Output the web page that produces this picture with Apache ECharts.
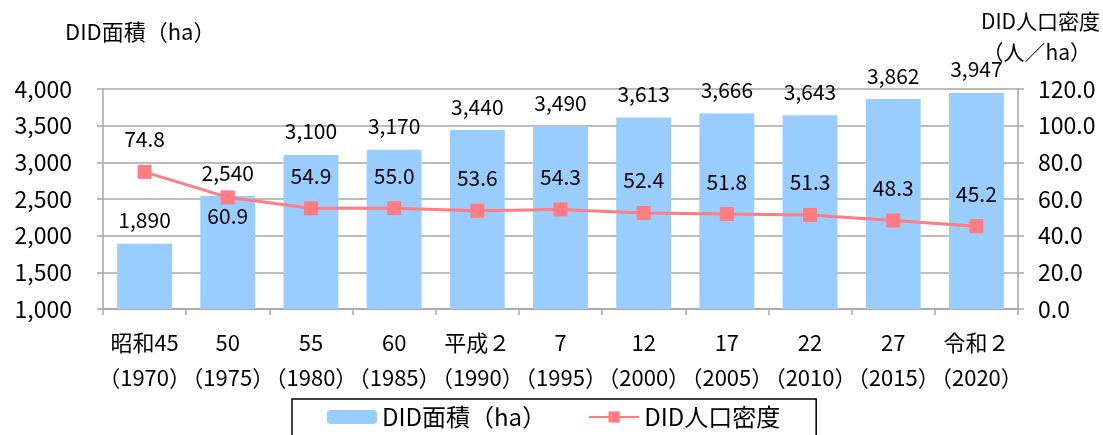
<!DOCTYPE html>
<html>
<head>
<meta charset="utf-8">
<script src="https://cdn.jsdelivr.net/npm/echarts@6/dist/echarts.min.js"></script>
<style>
  html, body { margin: 0; padding: 0; background: #fff; }
  #main { width: 1103px; height: 435px; }
</style>
</head>
<body>
<div id="main"></div>
<script>
// 年次ラベル（和暦＋西暦）
var eraLabels = ['昭和45', '50', '55', '60', '平成２', '7', '12', '17', '22', '27', '令和２'];
var yearLabels = ['1970', '1975', '1980', '1985', '1990', '1995', '2000', '2005', '2010', '2015', '2020'];
// DID面積（ha）
var didArea = [1890, 2540, 3100, 3170, 3440, 3490, 3613, 3666, 3643, 3862, 3947];
// DID人口密度（人/ha）
var didDensity = [74.8, 60.9, 54.9, 55.0, 53.6, 54.3, 52.4, 51.8, 51.3, 48.3, 45.2];
// 目盛
var leftTicks = [1000, 1500, 2000, 2500, 3000, 3500, 4000];
var rightTicks = [0, 20, 40, 60, 80, 100, 120];

var FONT = '"Noto Sans CJK JP", "Noto Sans", sans-serif';
var GRID = '#a6a6a6';

var categories = eraLabels.map(function (e, i) {
    return e + '\n（' + yearLabels[i] + '）';
});

var densityData = didDensity.map(function (v, i) {
    // 60.9 だけ点の下に表示
    if (i === 1) {
        return { value: v, label: { position: 'bottom', distance: 1 } };
    }
    return v;
});

var chart = echarts.init(document.getElementById('main'));

chart.setOption({
    animation: false,
    textStyle: { fontFamily: FONT, color: '#000' },
    grid: { left: 103, right: 85, top: 89, bottom: 126 },
    graphic: [
        { type: 'text', left: 65, top: 21, style: { text: 'DID面積（ha）', font: '22px ' + FONT, fill: '#000' } },
        { type: 'text', right: 3, top: 11, style: { text: 'DID人口密度', font: '21px ' + FONT, fill: '#000' } },
        { type: 'text', right: 12, top: 42, style: { text: '（人／ha）', font: '21px ' + FONT, fill: '#000' } }
    ],
    legend: {
        left: 292,
        top: 399,
        padding: [6, 36, 20, 35],
        borderColor: '#000',
        borderWidth: 1.5,
        itemWidth: 50,
        itemHeight: 14,
        itemGap: 42,
        textStyle: { fontSize: 24, fontFamily: FONT, color: '#000' },
        data: ['DID面積（ha）', 'DID人口密度']
    },
    xAxis: {
        type: 'category',
        data: categories,
        axisLine: { lineStyle: { color: GRID, width: 1.5 } },
        axisTick: { show: true, length: 6, lineStyle: { color: GRID, width: 1.5 } },
        axisLabel: {
            interval: 0,
            fontSize: 22,
            lineHeight: 35,
            margin: 16,
            color: '#000',
            fontFamily: FONT
        }
    },
    yAxis: [{
        type: 'value',
        min: leftTicks[0],
        max: leftTicks[leftTicks.length - 1],
        interval: leftTicks[1] - leftTicks[0],
        axisLine: { show: true, lineStyle: { color: GRID, width: 1.5 } },
        axisTick: { show: true, length: 6, lineStyle: { color: GRID, width: 1.5 } },
        splitLine: { lineStyle: { color: GRID, width: 1.5 } },
        axisLabel: {
            fontSize: 23,
            margin: 31,
            color: '#000',
            fontFamily: FONT,
            formatter: function (v) { return v.toLocaleString('en-US'); }
        }
    }, {
        type: 'value',
        min: rightTicks[0],
        max: rightTicks[rightTicks.length - 1],
        interval: rightTicks[1] - rightTicks[0],
        position: 'right',
        axisLine: { show: true, lineStyle: { color: GRID, width: 1.5 } },
        axisTick: { show: true, length: 6, lineStyle: { color: GRID, width: 1.5 } },
        splitLine: { show: false },
        axisLabel: {
            fontSize: 23,
            margin: 20,
            color: '#000',
            fontFamily: FONT,
            formatter: function (v) { return v.toFixed(1); }
        }
    }],
    series: [{
        name: 'DID面積（ha）',
        type: 'bar',
        yAxisIndex: 0,
        barWidth: '66%',
        data: didArea,
        itemStyle: { color: '#99ccff' },
        label: {
            show: true,
            position: 'top',
            distance: 13,
            fontSize: 21,
            color: '#000',
            fontFamily: FONT,
            formatter: function (p) { return p.value.toLocaleString('en-US'); }
        }
    }, {
        name: 'DID人口密度',
        type: 'line',
        yAxisIndex: 1,
        data: densityData,
        symbol: 'rect',
        symbolSize: 14,
        itemStyle: { color: '#ff7c80' },
        lineStyle: { color: '#ff7c80', width: 3 },
        label: {
            show: true,
            position: 'top',
            distance: 15,
            fontSize: 21,
            color: '#000',
            fontFamily: FONT,
            formatter: function (p) { return p.value.toFixed(1); }
        }
    }]
});
</script>
</body>
</html>
